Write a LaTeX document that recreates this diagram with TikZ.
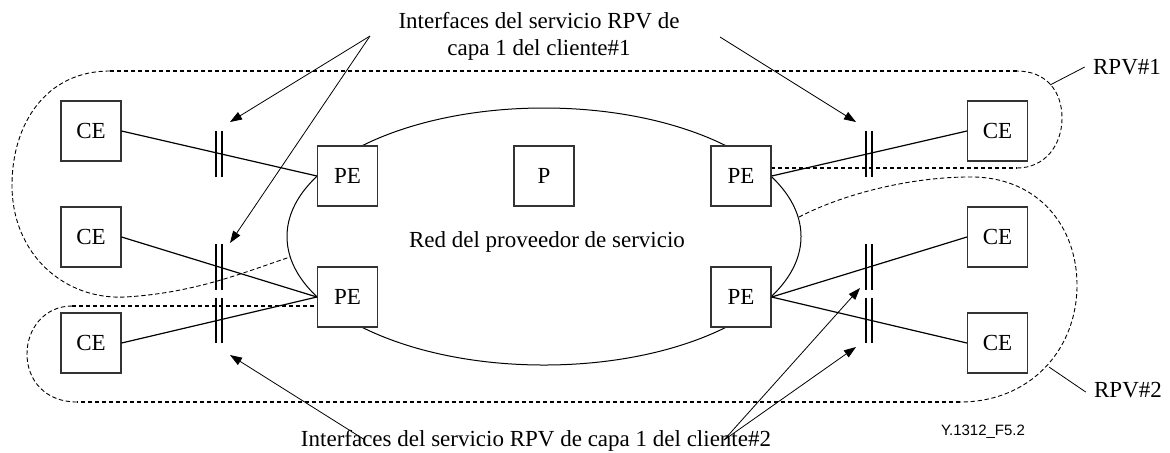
\documentclass[tikz,border=0pt]{standalone}
\usepackage{fontspec}
\setmainfont{Liberation Serif}
\newfontfamily\sansf{Liberation Sans}
\usetikzlibrary{arrows.meta,shapes.geometric}
\begin{document}
\begin{tikzpicture}[x=0.5pt,y=-0.5pt,
  every node/.style={font=\fontsize{11.5pt}{13.5pt}\selectfont},
  box/.style={draw=black!80,line width=0.6pt,fill=white,minimum width=30pt,minimum height=30pt,inner sep=0pt},
  conn/.style={line width=0.6pt},
  bar/.style={line width=0.9pt},
  arr/.style={line width=0.4pt,-{Triangle[length=6pt,width=4.2pt]}},
  lead/.style={line width=0.4pt},
  dline/.style={line width=0.75pt,dash pattern=on 2.2pt off 1.3pt},
  dcurve/.style={line width=0.45pt,dash pattern=on 2.2pt off 1.3pt},
  lbl/.style={inner sep=0pt}]
\useasboundingbox (0,0) rectangle (1170,452);

% provider network
\node[draw,line width=0.5pt,ellipse,minimum width=257pt,minimum height=128.5pt,inner sep=0pt] (net) at (544,236.5) {};

% RPV#1 outline
\draw[dline] (771,168) -- (1017,168);
\draw[dcurve] (1017,168) .. controls (1045,168) and (1062,145) .. (1062,118)
  .. controls (1062,90) and (1045,71) .. (1017,71);
\draw[dline] (1017,71) -- (110,71);
\draw[dcurve] (110,71) .. controls (45,71) and (12,125) .. (12,185)
  .. controls (12,255) and (65,300) .. (125,297)
  .. controls (195,293) and (245,272) .. (290,257);

% RPV#2 outline
\draw[dcurve] (799,217) .. controls (845,193) and (915,176) .. (975,177)
  .. controls (1040,179) and (1077,228) .. (1077,285)
  .. controls (1077,350) and (1030,402) .. (960,402);
\draw[dline] (960,402) -- (77,402);
\draw[dcurve] (77,402) .. controls (45,402) and (27,380) .. (27,354)
  .. controls (27,328) and (45,306) .. (72,306);
\draw[dline] (72,306) -- (317,306);

% nodes
\node[box] (ce1) at (91,131) {CE};
\node[box] (ce2) at (91,237) {CE};
\node[box] (ce3) at (91,343) {CE};
\node[box] (ce4) at (997.5,131) {CE};
\node[box] (ce5) at (997.5,237) {CE};
\node[box] (ce6) at (997.5,343) {CE};
\node[box] (pe1) at (347.5,176) {PE};
\node[box] (pe2) at (347.5,297) {PE};
\node[box] (pe3) at (741,176) {PE};
\node[box] (pe4) at (741,297) {PE};
\node[box] (p) at (544,176) {P};
\node[lbl] (netlbl) at (547,242) {Red del proveedor de servicio};

% links
\draw[conn] (ce1.east) -- (pe1.west);
\draw[conn] (ce2.east) -- (pe2.west);
\draw[conn] (ce3.east) -- (pe2.west);
\draw[conn] (ce4.west) -- (pe3.east);
\draw[conn] (ce5.west) -- (pe4.east);
\draw[conn] (ce6.west) -- (pe4.east);

% interface bars
\foreach \x in {216,222,866,872}{
  \draw[bar] (\x,131) -- (\x,177);
  \draw[bar] (\x,244) -- (\x,290);
  \draw[bar] (\x,298) -- (\x,343);
}

% labels
\node[lbl,anchor=base] (top1) at (539,28) {Interfaces del servicio RPV de};
\node[lbl,anchor=base] (top2) at (539,55) {capa 1 del cliente\#1};
\node[lbl,anchor=base] (bot) at (536,446) {Interfaces del servicio RPV de capa 1 del cliente\#2};
\node[lbl] (rpv1) at (1127,67) {RPV\#1};
\node[lbl] (rpv2) at (1128,390) {RPV\#2};
\node[lbl,font=\sansf\fontsize{7.5pt}{9pt}\selectfont] (fig) at (983,432) {Y.1312\_F5.2};

% leaders
\coordinate (r1a) at (1050,85);
\coordinate (r2a) at (1049,367);
\draw[lead] (r1a) -- ([xshift=-4pt]rpv1.west);
\draw[lead] (r2a) -- ([xshift=-4pt,yshift=-1pt]rpv2.west);

% arrows
\coordinate (s1) at (370,36);
\coordinate (s2) at (720,37);
\coordinate (s3) at (365,440);
\coordinate (s4) at (724,440);
\coordinate (t1) at (230,122);
\coordinate (t2) at (230,243);
\coordinate (t3) at (856,122);
\coordinate (t4) at (230,355);
\coordinate (t5) at (860,288);
\coordinate (t6) at (856,347);
\draw[arr] (s1) -- (t1);
\draw[arr] (s1) -- (t2);
\draw[arr] (s2) -- (t3);
\draw[arr] (s3) -- (t4);
\draw[arr] (s4) -- (t5);
\draw[arr] (s4) -- (t6);
\end{tikzpicture}
\end{document}
